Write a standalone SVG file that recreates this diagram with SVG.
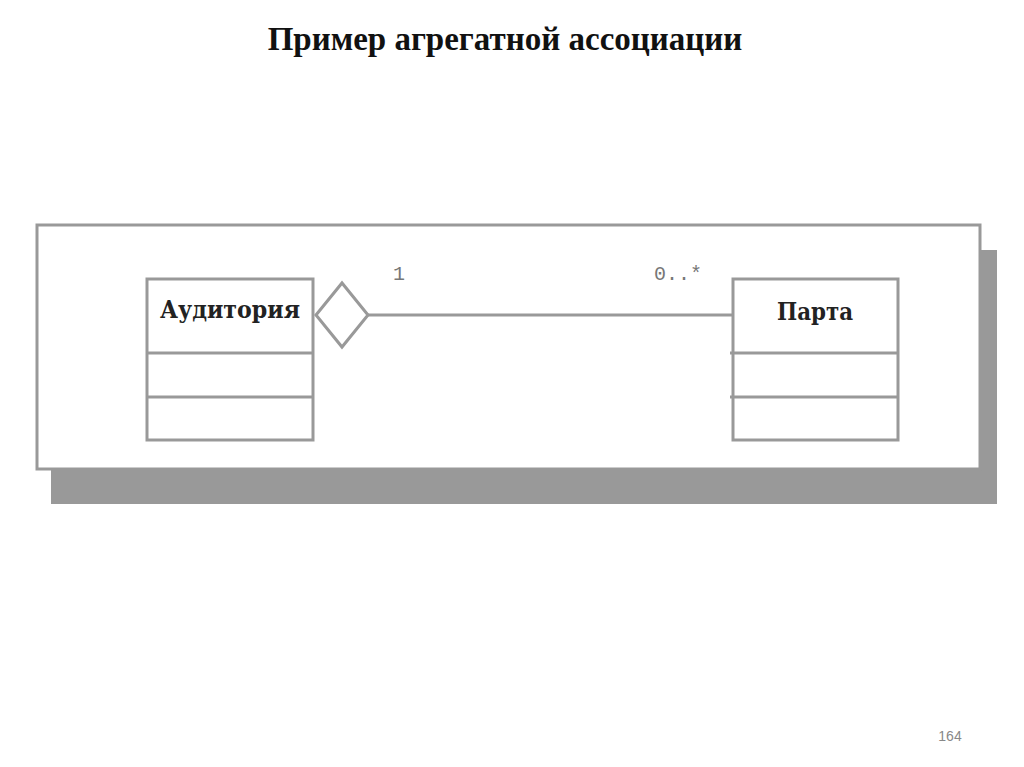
<svg xmlns="http://www.w3.org/2000/svg" width="1024" height="767" viewBox="0 0 1024 767">
<style>
.box{fill:#fff;stroke:#999;stroke-width:3}
.ln{stroke:#999;stroke-width:3;fill:none}
.nm{font-family:"DejaVu Serif","Liberation Serif",serif;font-weight:bold;font-size:25px;fill:#222;text-anchor:middle}
.ml{font-family:"Liberation Mono",monospace;font-size:20px;fill:#777}
</style>
<rect width="1024" height="767" fill="#fff"/>
<text x="505" y="50" font-family="Liberation Serif,serif" font-weight="bold" font-size="33" text-anchor="middle" fill="#111">Пример агрегатной ассоциации</text>
<rect x="51" y="250" width="946" height="254" fill="#999"/>
<rect x="37" y="225" width="943" height="244" class="box"/>
<g id="connectors">
<line x1="368" y1="315" x2="733" y2="315" class="ln"/>
<polygon points="316,315 342,283 368,315 342,347" class="ln" fill="#fff"/>
<text x="393" y="280" class="ml">1</text>
<text x="654" y="280" class="ml">0..*</text>
</g>
<g id="auditoriya">
<rect x="147" y="279" width="166" height="161" class="box"/>
<line x1="147" y1="353" x2="313" y2="353" class="ln"/>
<line x1="147" y1="397" x2="313" y2="397" class="ln"/>
<text x="230" y="318" class="nm" textLength="140" lengthAdjust="spacingAndGlyphs">Аудитория</text>
</g>
<g id="parta">
<rect x="733" y="279" width="165" height="161" class="box"/>
<line x1="730" y1="353" x2="898" y2="353" class="ln"/>
<line x1="730" y1="397" x2="898" y2="397" class="ln"/>
<text x="815" y="320" class="nm" textLength="76" lengthAdjust="spacingAndGlyphs">Парта</text>
</g>
<text x="950" y="741" font-family="Liberation Sans,sans-serif" font-size="14" fill="#888" text-anchor="middle">164</text>
</svg>
